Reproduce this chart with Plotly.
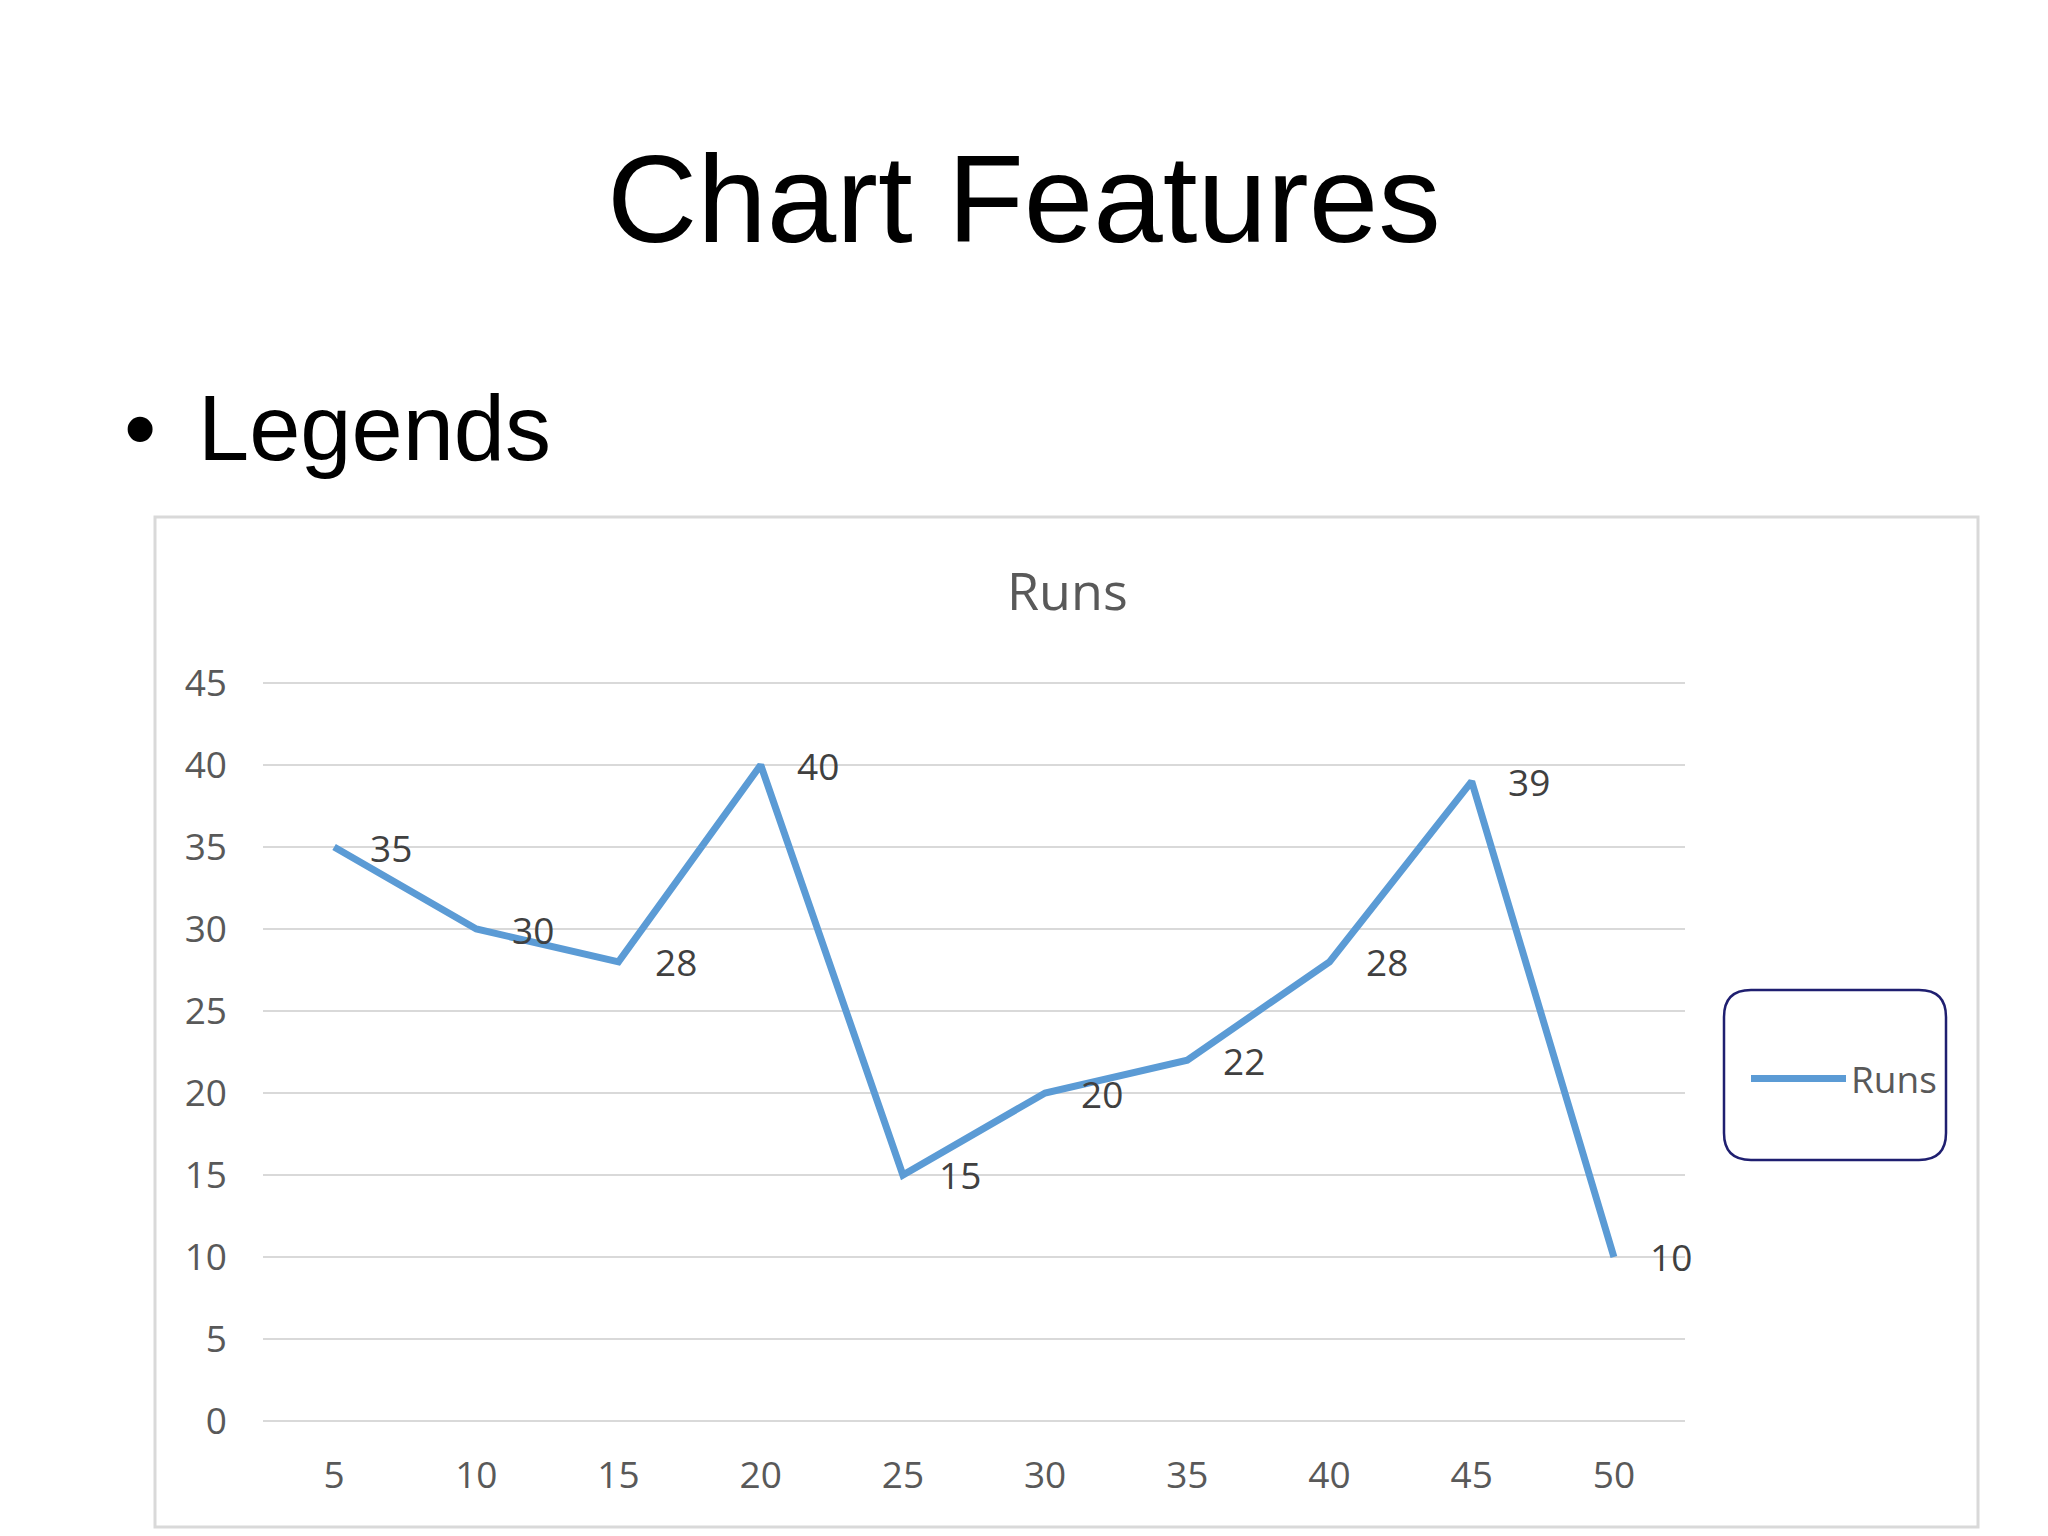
import plotly.graph_objects as go

# ---- data ----
categories = [5, 10, 15, 20, 25, 30, 35, 40, 45, 50]
runs = [35, 30, 28, 40, 15, 20, 22, 28, 39, 10]
y_ticks = [0, 5, 10, 15, 20, 25, 30, 35, 40, 45]
series_name = "Runs"
slide_title = "Chart Features"
bullet_text = "Legends"

# ---- layout geometry (pixels) ----
W, H = 2048, 1536
PL, PR, PT, PB = 263, 1685, 675, 1429
PW, PH = PR - PL, PB - PT
Y_PAD = 0.489  # range padding so end gridlines are drawn


def px2x(px):
    return (px - PL) / PW


def py2y(py):
    return (PB - py) / PH


TICK_FONT = dict(family="Open Sans, Noto Sans, sans-serif", size=37, color="#595959")
LABEL_FONT = dict(family="Open Sans, Noto Sans, sans-serif", size=37, color="#404040")
BLUE = "#5B9BD5"

fig = go.Figure()
fig.add_trace(go.Scatter(
    x=categories, y=runs, mode="lines", name=series_name,
    line=dict(color=BLUE, width=7), showlegend=True,
))

annotations = []
# data labels, right of each point
for c, v in zip(categories, runs):
    annotations.append(dict(
        x=c, y=v, xref="x", yref="y", text=str(v), showarrow=False,
        xanchor="left", yanchor="middle", xshift=34, font=LABEL_FONT,
    ))

# slide title and bullet
annotations.append(dict(
    x=px2x(1024), y=py2y(198), xref="paper", yref="paper", text=slide_title,
    showarrow=False, xanchor="center", yanchor="middle",
    font=dict(family="Liberation Sans, Arial, sans-serif", size=125, color="#000000"),
))
annotations.append(dict(
    x=px2x(140), y=py2y(428), xref="paper", yref="paper", text="\u2022",
    showarrow=False, xanchor="center", yanchor="middle",
    font=dict(family="Liberation Sans, Arial, sans-serif", size=92, color="#000000"),
))
annotations.append(dict(
    x=px2x(196), y=py2y(428), xref="paper", yref="paper", text=bullet_text,
    showarrow=False, xanchor="left", yanchor="middle",
    font=dict(family="Liberation Sans, Arial, sans-serif", size=92, color="#000000"),
))
# chart title
annotations.append(dict(
    x=px2x(1067), y=py2y(589), xref="paper", yref="paper", text=series_name,
    showarrow=False, xanchor="center", yanchor="middle",
    font=dict(family="Open Sans, Noto Sans, sans-serif", size=52, color="#595959"),
))

# chart border and rounded legend box
shapes = [dict(
    type="rect", xref="paper", yref="paper",
    x0=px2x(155), x1=px2x(1978), y0=py2y(517), y1=py2y(1527),
    line=dict(color="#d9d9d9", width=3), fillcolor="rgba(0,0,0,0)", layer="below",
)]
lx0, lx1, ly0, ly1, r = 1724, 1946, 990, 1160, 27
X = px2x
Y = py2y
path = (
    f"M{X(lx0 + r)},{Y(ly0)} L{X(lx1 - r)},{Y(ly0)} Q{X(lx1)},{Y(ly0)} {X(lx1)},{Y(ly0 + r)} "
    f"L{X(lx1)},{Y(ly1 - r)} Q{X(lx1)},{Y(ly1)} {X(lx1 - r)},{Y(ly1)} "
    f"L{X(lx0 + r)},{Y(ly1)} Q{X(lx0)},{Y(ly1)} {X(lx0)},{Y(ly1 - r)} "
    f"L{X(lx0)},{Y(ly0 + r)} Q{X(lx0)},{Y(ly0)} {X(lx0 + r)},{Y(ly0)} Z"
)
shapes.append(dict(type="path", xref="paper", yref="paper", path=path,
                   line=dict(color="#1f1f70", width=2.5), fillcolor="rgba(0,0,0,0)"))

fig.update_layout(
    width=W, height=H,
    margin=dict(l=PL, r=W - PR, t=PT, b=H - PB, pad=0),
    paper_bgcolor="white", plot_bgcolor="white",
    annotations=annotations, shapes=shapes,
    showlegend=True,
    legend=dict(
        x=px2x(1746), y=py2y(1079), xanchor="left", yanchor="middle",
        xref="paper", yref="paper",
        bgcolor="rgba(0,0,0,0)", borderwidth=0,
        font=TICK_FONT, itemwidth=95,
    ),
    xaxis=dict(
        range=[2.5, 52.5], tickmode="array", tickvals=categories,
        ticktext=[str(c) for c in categories],
        showgrid=False, zeroline=False, showline=False, ticks="",
        tickfont=TICK_FONT, ticklabelstandoff=21,
    ),
    yaxis=dict(
        range=[y_ticks[0] - Y_PAD, y_ticks[-1] + Y_PAD], tickmode="array", tickvals=y_ticks,
        showgrid=True, gridcolor="#d9d9d9", gridwidth=2,
        zeroline=False, showline=False, ticks="",
        tickfont=TICK_FONT, ticklabelstandoff=35,
    ),
)

fig.write_html("out.html", config={"displayModeBar": False},
               post_script="document.body.style.margin='0';")
